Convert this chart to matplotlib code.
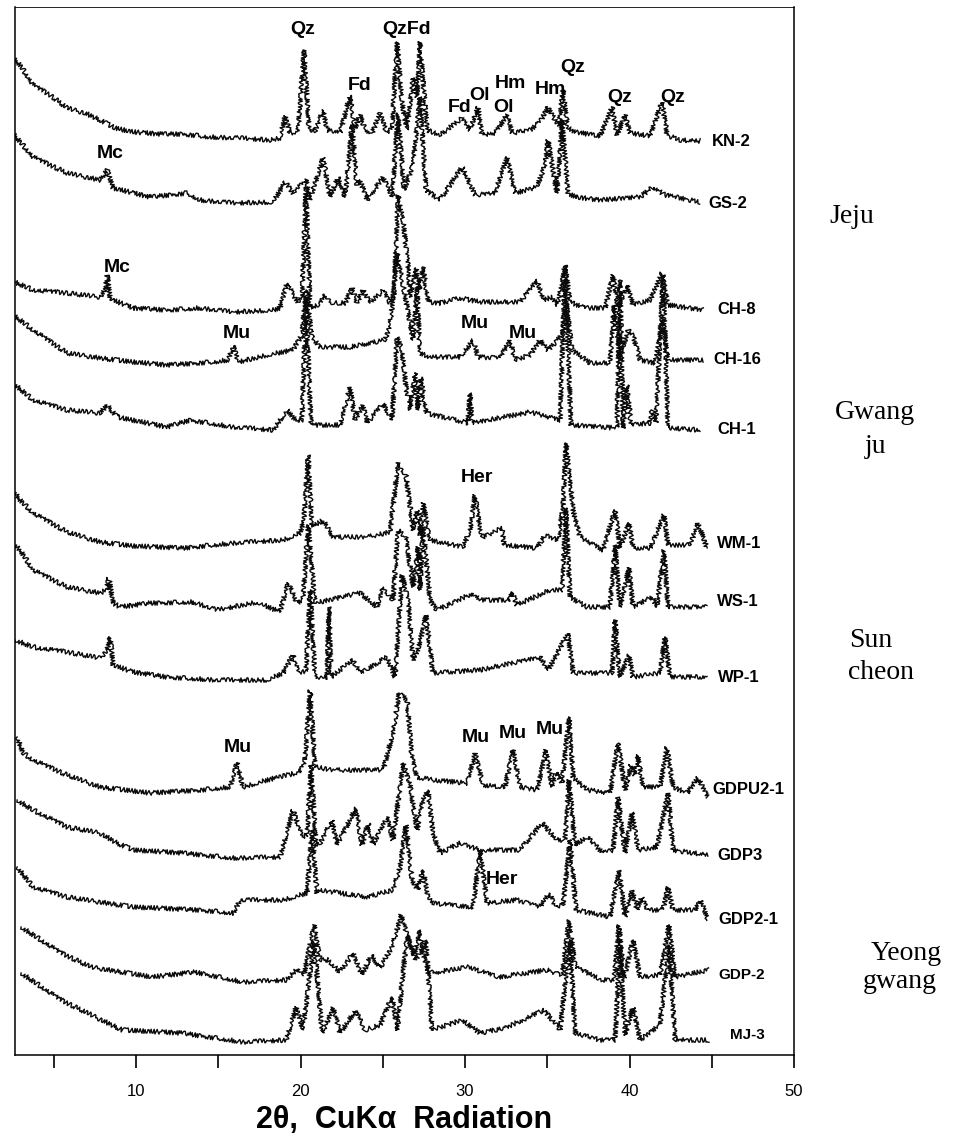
import matplotlib
matplotlib.use("Agg")
import matplotlib.pyplot as plt

# XRD patterns (2theta in degrees, stacked intensity in arbitrary units)
kn2_x = [2.34, 2.95, 3.74, 4.77, 5.81, 6.90, 7.81, 8.72, 9.82, 11.46, 12.86, 14.50, 16.32, 18.15, 18.75, 19.06,
         19.36, 19.85, 20.21, 20.52, 20.88, 21.37, 21.61, 22.40, 23.01, 23.31, 23.62, 23.92, 24.35, 24.83, 25.26,
         25.56, 25.87, 26.17, 26.47, 26.84, 27.08, 27.26, 27.69, 28.48, 29.82, 30.30, 30.79, 31.03, 31.82, 32.55,
         32.86, 33.95, 34.56, 35.05, 35.47, 35.71, 35.96, 36.26, 36.69, 38.21, 38.94, 39.24, 39.73, 40.03, 41.25,
         41.98, 42.28, 43.07, 44.29]
kn2_y = [1000, 990, 970, 960, 947, 942, 935, 927, 923, 921, 921, 918, 917, 915, 917, 939, 922, 923, 1005, 925,
         924, 945, 925, 922, 960, 927, 940, 925, 922, 942, 922, 927, 1013, 952, 925, 977, 958, 1013, 925, 920,
         937, 925, 948, 920, 922, 940, 922, 925, 933, 948, 935, 930, 965, 927, 923, 919, 948, 920, 940, 922,
         919, 953, 920, 915, 914]

gs2_x = [2.34, 3.74, 5.81, 7.81, 8.24, 8.60, 10.85, 13.10, 13.89, 15.90, 18.33, 19.06, 19.54, 20.33, 20.58,
         21.37, 21.79, 22.28, 22.71, 23.13, 23.43, 23.62, 24.04, 25.02, 25.56, 25.93, 26.29, 26.84, 27.26, 27.63,
         28.48, 29.82, 30.61, 31.82, 32.55, 33.04, 34.38, 34.86, 35.05, 35.35, 35.59, 35.90, 36.26, 36.69,
         38.21, 40.64, 41.43, 42.16, 44.29]
gs2_y = [925, 898, 882, 875, 885, 867, 858, 862, 855, 852, 853, 873, 862, 875, 855, 898, 858, 878, 858, 930,
         870, 875, 855, 878, 858, 942, 865, 890, 958, 865, 855, 888, 860, 862, 898, 862, 868, 890, 915,
         885, 862, 935, 862, 858, 855, 858, 868, 860, 853]

ch8_x = [2.34, 3.74, 5.81, 7.81, 8.12, 8.24, 8.42, 8.60, 9.82, 11.88, 13.89, 15.90, 18.33, 18.75, 19.18, 19.79,
         20.09, 20.33, 20.58, 21.06, 21.49, 21.98, 22.71, 23.13, 23.43, 23.80, 24.23, 25.02, 25.44, 25.68, 25.93,
         26.23, 26.53, 26.66, 27.02, 27.20, 27.45, 27.75, 28.48, 29.70, 30.91, 33.34, 34.38, 34.74, 35.29, 35.65,
         36.08, 36.38, 37.29, 38.51, 39.00, 39.30, 39.85, 40.21, 41.25, 41.98, 42.34, 44.47]
ch8_y = [775, 765, 762, 758, 765, 780, 757, 755, 747, 745, 747, 743, 745, 747, 772, 753, 757, 868, 748, 750,
         760, 752, 752, 767, 752, 765, 752, 765, 752, 760, 860, 835, 790, 758, 787, 765, 788, 753, 752, 757,
         753, 753, 775, 755, 758, 750, 790, 753, 747, 747, 780, 747, 770, 750, 755, 782, 750, 745]

ch16_x = [2.34, 2.95, 3.74, 5.81, 7.81, 9.82, 11.88, 14.68, 15.59, 15.90, 16.20, 17.96, 19.54, 20.09, 20.33,
          20.70, 21.19, 23.01, 25.14, 25.44, 25.75, 25.87, 26.35, 26.84, 27.08, 27.26, 27.87, 29.70, 30.49, 30.79,
          32.13, 32.74, 33.04, 33.95, 34.56, 35.05, 35.90, 36.14, 36.50, 37.60, 38.81, 39.06, 39.42, 39.91, 40.21,
          40.64, 41.55, 42.04, 42.34, 44.47]
ch16_y = [742, 735, 725, 702, 697, 693, 690, 693, 695, 710, 693, 700, 705, 720, 765, 718, 708, 708, 715, 730,
          778, 802, 760, 715, 768, 702, 698, 698, 715, 698, 697, 715, 695, 700, 715, 705, 720, 755, 705, 692,
          692, 750, 695, 725, 720, 695, 692, 735, 695, 695]

ch1_x = [2.52, 3.74, 5.81, 7.81, 8.24, 8.84, 11.88, 13.28, 15.90, 18.33, 19.18, 19.79, 20.09, 20.33, 20.64,
         22.40, 23.01, 23.31, 23.80, 24.04, 25.02, 25.56, 25.87, 26.17, 26.41, 26.66, 26.96, 27.14, 27.32, 27.63,
         30.18, 30.30, 30.43, 33.95, 35.78, 36.08, 36.44, 39.24, 39.42, 39.61, 39.85, 40.09, 41.25, 41.37, 41.61,
         42.04, 42.34, 44.29]
ch1_y = [672, 655, 645, 642, 650, 638, 628, 635, 628, 625, 645, 633, 635, 755, 630, 630, 668, 635, 650, 632,
         652, 635, 718, 705, 668, 645, 682, 645, 678, 642, 632, 662, 632, 643, 635, 785, 630, 627, 775, 627,
         670, 630, 632, 645, 632, 780, 627, 625]

wm1_x = [2.52, 2.95, 3.74, 5.81, 7.81, 9.82, 12.86, 15.90, 18.94, 19.97, 20.21, 20.46, 20.70, 21.37, 21.98,
         24.04, 25.44, 25.93, 26.41, 26.84, 27.08, 27.26, 27.45, 27.87, 29.88, 30.30, 30.61, 30.91, 31.09, 32.25,
         32.37, 34.38, 34.86, 35.65, 35.96, 36.14, 36.57, 36.99, 38.39, 39.12, 39.42, 39.97, 40.21, 41.25, 42.10,
         42.34, 43.68, 44.16, 44.71]
wm1_y = [565, 555, 542, 523, 513, 509, 507, 512, 515, 522, 535, 600, 528, 535, 518, 518, 523, 592, 580, 525,
         545, 520, 552, 515, 508, 525, 560, 525, 518, 527, 510, 507, 520, 515, 548, 612, 545, 518, 505, 545,
         507, 532, 507, 507, 540, 510, 510, 532, 507]

ws1_x = [2.52, 2.95, 3.74, 5.81, 7.81, 8.18, 8.36, 8.60, 9.03, 10.85, 13.47, 14.92, 17.36, 18.75, 19.24, 19.79,
         20.15, 20.46, 20.88, 23.62, 24.65, 25.02, 25.62, 25.93, 26.41, 26.84, 27.14, 27.26, 27.45, 27.87, 28.30,
         30.49, 30.91, 32.74, 32.86, 33.16, 35.17, 35.90, 36.14, 36.38, 37.42, 38.81, 39.12, 39.42, 39.97, 40.21,
         41.37, 41.67, 42.10, 42.34, 44.71]
ws1_y = [512, 505, 485, 468, 462, 465, 477, 452, 448, 452, 453, 445, 453, 443, 472, 452, 455, 530, 452, 462,
         448, 468, 455, 525, 518, 468, 508, 465, 528, 455, 445, 462, 455, 455, 463, 450, 465, 465, 547, 458,
         448, 448, 510, 448, 487, 448, 458, 448, 505, 448, 448]

wp1_x = [2.64, 3.74, 5.81, 7.81, 8.24, 8.42, 8.60, 9.82, 11.88, 14.92, 17.96, 18.94, 19.54, 19.85, 20.33, 20.58,
         20.88, 21.61, 21.73, 21.85, 23.19, 23.62, 25.26, 25.74, 26.17, 26.53, 26.84, 27.14, 27.63, 28.05, 30.91,
         34.56, 35.05, 36.26, 36.57, 38.94, 39.12, 39.42, 39.97, 40.21, 41.85, 42.16, 42.46, 44.71]
wp1_y = [415, 408, 403, 397, 405, 418, 390, 383, 378, 375, 375, 382, 400, 383, 383, 465, 378, 378, 448, 378,
         395, 382, 398, 378, 480, 455, 395, 405, 440, 382, 385, 398, 385, 422, 382, 382, 435, 378, 400, 378,
         382, 418, 378, 378]

gdpu21_x = [2.77, 3.13, 3.74, 5.81, 7.81, 10.85, 13.89, 15.71, 16.14, 16.50, 17.96, 19.97, 20.27, 20.58, 20.88,
            21.98, 25.02, 25.62, 25.99, 26.47, 26.78, 27.08, 28.05, 30.12, 30.61, 31.09, 32.43, 32.92, 33.34,
            34.38, 34.92, 35.29, 35.53, 35.90, 36.32, 36.57, 37.42, 38.81, 39.30, 39.73, 40.09, 40.33, 40.52,
            40.82, 41.85, 42.28, 42.64, 43.50, 44.16, 44.77]
gdpu21_y = [318, 302, 295, 280, 268, 262, 265, 268, 292, 268, 275, 283, 295, 365, 288, 285, 285, 322, 362, 355,
            298, 278, 275, 272, 302, 270, 268, 305, 268, 265, 305, 268, 283, 272, 338, 278, 265, 262, 312, 265,
            290, 280, 300, 268, 268, 308, 268, 262, 277, 258]

gdp3_x = [2.77, 3.74, 5.81, 7.81, 8.84, 9.82, 12.86, 15.90, 18.75, 19.54, 20.09, 20.40, 20.64, 20.94, 21.19,
          21.91, 22.22, 23.37, 23.74, 24.10, 24.41, 25.26, 25.62, 26.23, 26.66, 27.08, 27.45, 27.75, 28.05, 28.48,
          29.70, 30.91, 33.34, 34.68, 35.59, 36.08, 36.32, 36.69, 37.42, 38.39, 39.00, 39.30, 39.73, 40.15, 40.52,
          41.67, 42.34, 42.64, 44.77]
gdp3_y = [255, 245, 228, 222, 212, 205, 202, 197, 198, 245, 218, 220, 290, 210, 212, 235, 210, 247, 210, 232,
          210, 238, 215, 292, 270, 225, 255, 265, 222, 202, 212, 205, 205, 232, 215, 215, 275, 210, 218, 202,
          205, 258, 202, 243, 205, 208, 262, 205, 200]

gdp21_x = [2.77, 3.74, 5.81, 9.82, 13.89, 15.90, 16.32, 18.94, 20.40, 20.70, 21.00, 21.19, 24.04, 25.62, 26.05,
           26.41, 26.78, 27.14, 27.45, 27.75, 28.05, 30.49, 30.91, 31.34, 33.16, 34.56, 35.11, 35.53, 35.96, 36.38,
           36.75, 38.81, 39.36, 39.73, 40.15, 40.46, 40.76, 41.06, 42.04, 42.34, 42.64, 43.98, 44.35, 44.77]
gdp21_y = [188, 168, 158, 148, 145, 142, 155, 155, 162, 225, 162, 165, 158, 165, 188, 230, 175, 165, 185, 157,
           152, 148, 205, 152, 155, 148, 162, 148, 150, 215, 145, 138, 185, 138, 165, 145, 158, 145, 145, 168,
           145, 145, 155, 135]

gdp2_x = [3.01, 5.44, 7.26, 10.97, 13.59, 16.50, 19.12, 19.85, 20.21, 20.82, 21.19, 21.67, 22.40, 23.19, 23.74,
          24.29, 24.83, 25.56, 26.11, 26.47, 26.90, 27.26, 27.63, 27.99, 30.18, 32.07, 34.98, 35.90, 36.32, 36.69,
          38.33, 39.06, 39.36, 39.67, 40.21, 40.64, 41.85, 42.40, 42.77, 44.83]
gdp2_y = [128, 102, 88, 78, 83, 73, 75, 87, 80, 130, 95, 95, 83, 102, 80, 100, 87, 108, 140, 120,
          100, 125, 87, 82, 88, 78, 85, 80, 135, 88, 75, 75, 130, 77, 115, 78, 80, 130, 78, 85]

mj3_x = [3.01, 5.44, 9.15, 12.80, 16.50, 19.12, 19.73, 20.15, 20.82, 21.31, 21.98, 22.40, 23.37, 23.92, 24.83,
         25.56, 25.87, 26.47, 27.02, 27.63, 27.99, 29.82, 30.91, 32.43, 34.80, 35.78, 36.38, 36.69, 38.21, 39.12,
         39.42, 39.73, 40.21, 40.64, 41.85, 42.40, 42.77, 44.83]
mj3_y = [82, 55, 25, 22, 13, 15, 48, 25, 115, 22, 47, 22, 45, 25, 30, 58, 25, 120, 95, 115,
         25, 35, 22, 27, 45, 25, 115, 22, 15, 15, 110, 20, 48, 15, 30, 110, 15, 15]

samples = ["KN-2", "GS-2", "CH-8", "CH-16", "CH-1", "WM-1", "WS-1", "WP-1",
           "GDPU2-1", "GDP3", "GDP2-1", "GDP-2", "MJ-3"]
xs = [kn2_x, gs2_x, ch8_x, ch16_x, ch1_x, wm1_x, ws1_x, wp1_x, gdpu21_x, gdp3_x, gdp21_x, gdp2_x, mj3_x]
ys = [kn2_y, gs2_y, ch8_y, ch16_y, ch1_y, wm1_y, ws1_y, wp1_y, gdpu21_y, gdp3_y, gdp21_y, gdp2_y, mj3_y]
# where each sample name sits (2theta, intensity)
label_x = [45.02, 44.77, 45.32, 45.08, 45.32, 45.32, 45.32, 45.38, 45.02, 45.32, 45.38, 45.38, 46.11]
label_y = [913, 852, 745, 695, 625, 512, 453, 377, 266, 200, 135, 80, 20]
label_size = [12, 12, 12, 12, 12, 12, 12, 12, 12, 12, 12, 11, 11]

# mineral names over the peaks
minerals = ["Qz", "QzFd", "Fd", "Mc", "Fd", "Ol", "Hm", "Ol", "Hm", "Qz", "Qz", "Qz",
            "Mc", "Mu", "Mu", "Mu", "Her", "Mu", "Mu", "Mu", "Mu", "Her"]
mineral_x = [20.15, 26.47, 23.62, 8.42, 29.70, 30.85, 32.74, 32.31, 35.17, 36.57, 39.42, 42.64,
             8.84, 16.14, 30.61, 33.53, 30.73, 16.20, 30.67, 32.92, 35.17, 32.25]
mineral_y = [1025, 1025, 970, 902, 947, 960, 972, 948, 965, 987, 958, 958,
             787, 722, 732, 722, 578, 308, 317, 322, 325, 175]

regions = [("Jeju", 0.893, 0.811), ("Gwang", 0.917, 0.639), ("ju", 0.918, 0.609),
           ("Sun", 0.913, 0.440), ("cheon", 0.924, 0.412), ("Yeong", 0.950, 0.166), ("gwang", 0.943, 0.141)]

fig = plt.figure(figsize=(9.54, 11.43), dpi=100)
ax = fig.add_axes([15 / 954, 88 / 1143, 779 / 954, 1048 / 1143])

for x, y in zip(xs, ys):
    line, = ax.plot(x, y, color="#0a0a0a", lw=1.0)
    # scanned diffractograms are noisy: jitter the stroke only
    line.set_sketch_params(2.3, 2.0, 3)

for name, lx, ly, fs in zip(samples, label_x, label_y, label_size):
    ax.text(lx, ly, name, fontsize=fs, fontweight="bold", family="Liberation Sans",
            ha="left", va="center")

for name, mx, my in zip(minerals, mineral_x, mineral_y):
    ax.text(mx, my, name, fontsize=14, fontweight="bold", family="Liberation Sans",
            ha="center", va="center")

for name, fx, fy in regions:
    fig.text(fx, fy, name, fontsize=20, family="Liberation Serif", ha="center", va="center")

ax.set_xlim(2.64, 50)
ax.set_ylim(0, 1048)
ax.set_yticks([])
ax.set_xticks(range(5, 51, 5))
ax.set_xticklabels(["", "10", "", "20", "", "30", "", "40", "", "50"],
                   fontsize=12, family="Liberation Sans")
ax.tick_params(axis="x", direction="out", length=9, width=1.2, pad=12)
for s in ax.spines.values():
    s.set_linewidth(1.1)
ax.spines["top"].set_linewidth(0.6)
ax.set_xlabel("2θ,  CuKα  Radiation", fontsize=22, fontweight="bold", family="Liberation Sans",
              labelpad=4)

plt.savefig("out.png", dpi=100)
